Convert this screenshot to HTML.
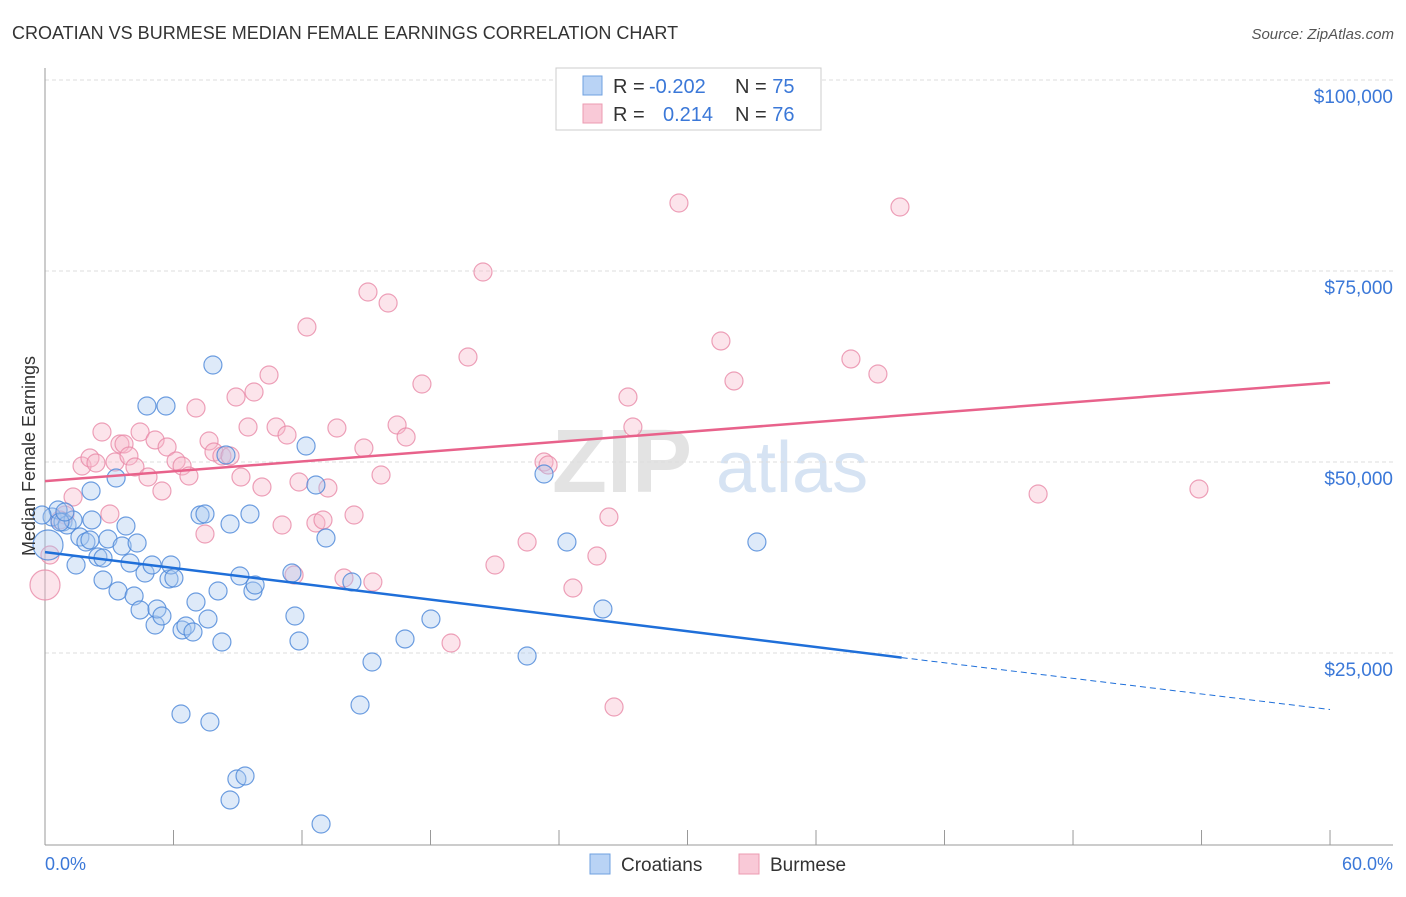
<!DOCTYPE html>
<html><head><meta charset="utf-8"><style>
body{margin:0;background:#fff;font-family:"Liberation Sans",sans-serif;}
svg text{font-family:"Liberation Sans",sans-serif;}
</style></head><body>
<svg width="1406" height="892" xmlns="http://www.w3.org/2000/svg">
<text x="12" y="39" font-size="18" fill="#333">CROATIAN VS BURMESE MEDIAN FEMALE EARNINGS CORRELATION CHART</text>
<text x="1394" y="39" font-size="15" fill="#555" font-style="italic" text-anchor="end">Source: ZipAtlas.com</text>
<g>
<text x="552" y="492" font-size="90" fill="#e3e3e3" font-family="Liberation Serif" font-weight="bold">ZIP</text>
<text x="716" y="492" font-size="72" fill="#d6e3f3">atlas</text>
</g>
<g id="grid"></g>
<g id="axes"></g>
<g id="pts"></g>
<g id="lines"></g>
<text x="35" y="456" font-size="18" fill="#333" text-anchor="middle" transform="rotate(-90 35 456)">Median Female Earnings</text>
<text x="45" y="870" font-size="18" fill="#3b78d8">0.0%</text>
<text x="1393" y="870" font-size="18" fill="#3b78d8" text-anchor="end">60.0%</text>
<g>
<rect x="556" y="68" width="265" height="62" fill="#fff" stroke="#ccc"/>
<rect x="583" y="76" width="19" height="19" fill="#b9d3f5" stroke="#6fa0e0"/>
<rect x="583" y="104" width="19" height="19" fill="#f9c9d7" stroke="#ec9bb2"/>
<text x="613" y="93" font-size="20" fill="#333">R = <tspan x="649" fill="#3b78d8">-0.202</tspan><tspan x="735">N = </tspan><tspan fill="#3b78d8">75</tspan></text>
<text x="613" y="121" font-size="20" fill="#333">R = <tspan x="663" fill="#3b78d8">0.214</tspan><tspan x="735">N = </tspan><tspan fill="#3b78d8">76</tspan></text>
</g>
<g>
<rect x="590" y="854" width="20" height="20" fill="#b9d3f5" stroke="#6fa0e0"/>
<text x="621" y="871" font-size="19" fill="#333">Croatians</text>
<rect x="739" y="854" width="20" height="20" fill="#f9c9d7" stroke="#ec9bb2"/>
<text x="770" y="871" font-size="19" fill="#333">Burmese</text>
</g>
</svg>
<script>
const yTicks=[25000,50000,75000,100000];
const yTickLabels=["$25,000","$50,000","$75,000","$100,000"];
const xTicks=[0,6,12,18,24,30,36,42,48,54,60];
const croPx=[[48,545],[52,517],[58,510],[63,522],[67,525],[76,565],[80,537],[86,542],[92,520],[91,491],[98,557],[103,558],[103,580],[108,539],[116,478],[118,591],[122,546],[126,526],[130,563],[134,596],[137,543],[140,610],[145,573],[147,406],[152,565],[155,625],[157,609],[162,616],[166,406],[169,579],[171,565],[174,578],[181,714],[182,630],[186,626],[193,632],[196,602],[200,515],[205,514],[208,619],[210,722],[213,365],[218,591],[222,642],[226,455],[230,524],[230,800],[237,779],[240,576],[245,776],[250,514],[253,591],[255,585],[292,573],[295,616],[299,641],[306,446],[316,485],[321,824],[326,538],[352,582],[360,705],[372,662],[405,639],[431,619],[527,656],[544,474],[567,542],[603,609],[757,542],[42,515],[73,520],[90,540],[60,522],[65,512]];
const burPx=[[45,585],[50,555],[65,515],[73,497],[82,466],[90,458],[96,463],[102,432],[110,514],[115,462],[120,444],[124,444],[129,456],[135,467],[140,432],[148,477],[155,440],[162,491],[167,447],[176,461],[182,466],[189,476],[196,408],[205,534],[209,441],[214,452],[222,456],[230,456],[236,397],[241,477],[248,427],[254,392],[262,487],[269,375],[276,427],[282,525],[287,435],[294,575],[299,482],[307,327],[316,523],[323,520],[328,488],[337,428],[344,578],[354,515],[364,448],[368,292],[373,582],[381,475],[388,303],[397,425],[406,437],[422,384],[451,643],[468,357],[483,272],[495,565],[527,542],[544,462],[548,465],[573,588],[597,556],[609,517],[614,707],[628,397],[633,427],[679,203],[721,341],[734,381],[851,359],[878,374],[900,207],[1038,494],[1199,489],[60,520]];
const croX=croPx.map(p=>+((p[0]-45)/21.417).toFixed(2));
const croY=croPx.map(p=>Math.round((844-p[1])*130.9));
const burX=burPx.map(p=>+((p[0]-45)/21.417).toFixed(2));
const burY=burPx.map(p=>Math.round((844-p[1])*130.9));
const croTrend=[[0,38200],[40,24400],[60,17600]];
const burTrend=[[0,47500],[60,60400]];
const X=v=>45+v*21.417, Y=v=>844-v/130.9;
const NS="http://www.w3.org/2000/svg";
function mk(tag,attrs,parent){const e=document.createElementNS(NS,tag);for(const k in attrs)e.setAttribute(k,attrs[k]);document.getElementById(parent).appendChild(e);return e;}
yTicks.forEach((t,i)=>{
 const l=mk('line',{x1:45,x2:1393,y1:Y(t),y2:Y(t),stroke:'#ddd','stroke-dasharray':'4,3'},'grid');
 
 
 const tx=mk('text',{x:1393,y:Y(t)+23,'font-size':19,fill:'#3b78d8','text-anchor':'end'},'grid');
 tx.textContent=yTickLabels[i];
 
 
});
const ax=mk('line',{x1:45,x2:45,y1:68,y2:845,stroke:'#999'},'axes');


const bx=mk('line',{x1:45,x2:1393,y1:845,y2:845,stroke:'#999'},'axes');


xTicks.forEach(t=>{
 const l=mk('line',{x1:X(t),x2:X(t),y1:830,y2:845,stroke:'#999'},'axes');
 
 
});
function dots(xs,ys,fill,stroke,name){
 xs.forEach((x,i)=>{
  const r=i===0?15:9;
  const c=mk('circle',{cx:X(x),cy:Y(ys[i]),r:r,fill:fill,'fill-opacity':0.38,stroke:stroke,'stroke-width':1.2,'stroke-opacity':0.8},'pts');
  
  
 });
}
dots(burX,burY,'#f6b8ca','#e98aa8','burmese-point');
dots(croX,croY,'#a9c8f0','#4a86d8','croatian-point');
const l1=mk('line',{x1:X(croTrend[0][0]),y1:Y(croTrend[0][1]),x2:X(croTrend[1][0]),y2:Y(croTrend[1][1]),stroke:'#1f6fd9','stroke-width':2.5},'lines');


const l2=mk('line',{x1:X(croTrend[1][0]),y1:Y(croTrend[1][1]),x2:X(croTrend[2][0]),y2:Y(croTrend[2][1]),stroke:'#1f6fd9','stroke-width':1,'stroke-dasharray':'6,4'},'lines');


const l3=mk('line',{x1:X(burTrend[0][0]),y1:Y(burTrend[0][1]),x2:X(burTrend[1][0]),y2:Y(burTrend[1][1]),stroke:'#e8628b','stroke-width':2.5},'lines');


</script>
</body></html>
